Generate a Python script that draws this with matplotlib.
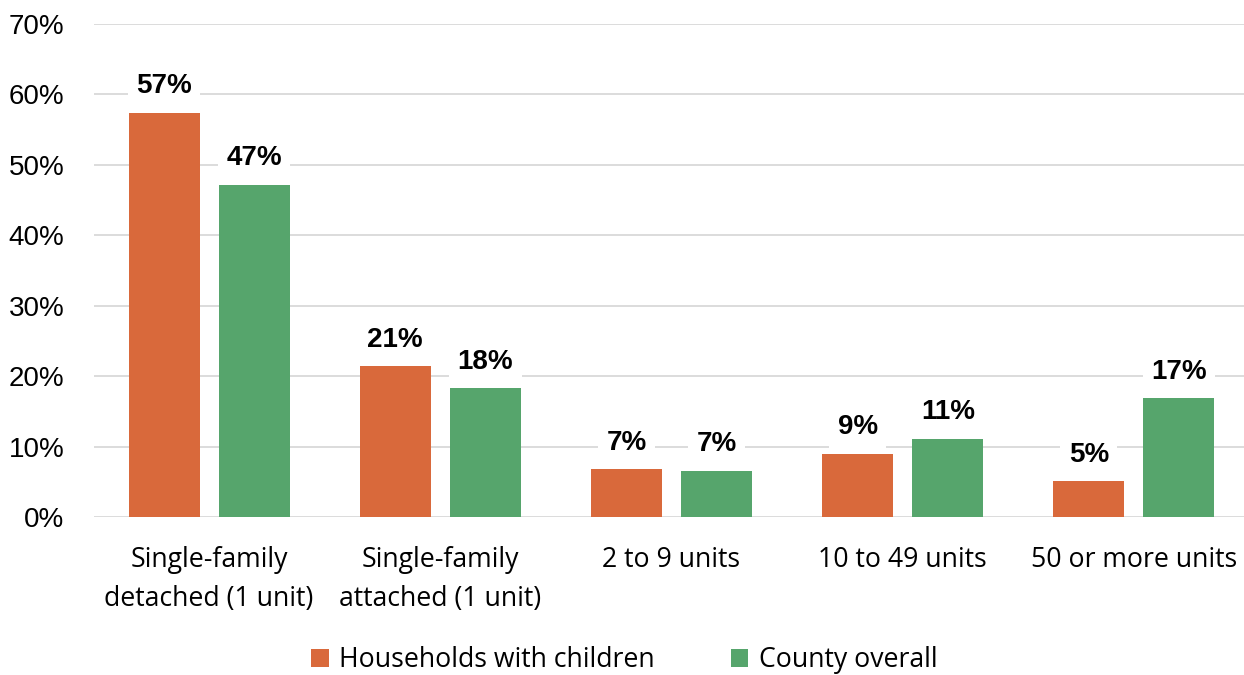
import matplotlib
matplotlib.use("Agg")
import matplotlib.pyplot as plt
import numpy as np
from matplotlib.ticker import PercentFormatter

categories = ["Single-family\ndetached (1 unit)", "Single-family\nattached (1 unit)",
              "2 to 9 units", "10 to 49 units", "50 or more units"]
households_children = [57.4, 21.4, 6.8, 9.0, 5.1]
county_overall = [47.2, 18.3, 6.6, 11.1, 16.9]
series_names = ["Households with children", "County overall"]
yticks = [0, 10, 20, 30, 40, 50, 60, 70]

orange = "#D9693B"
green = "#56A56C"
grid_color = "#D9D9D9"
label_font = "Liberation Sans"
cat_font = "Open Sans"

fig = plt.figure(figsize=(12.44, 6.75), dpi=100)
ax = fig.add_axes([93.5/1244, 1-517/675, 1156/1244, (517-24)/675])

x = np.arange(len(categories))
w = 0.307
off = 0.195
b1 = ax.bar(x - off, households_children, w, color=orange, zorder=3, label=series_names[0])
b2 = ax.bar(x + off, county_overall, w, color=green, zorder=3, label=series_names[1])

for bars, vals in ((b1, households_children), (b2, county_overall)):
    for rect, v in zip(bars, vals):
        ax.annotate(f"{int(v + 0.5)}%", (rect.get_x() + rect.get_width()/2, v),
                    xytext=(0, 14), textcoords="offset points", ha="center", va="baseline",
                    fontsize=20, fontweight="bold", family=label_font, color="black", zorder=4,
                    bbox=dict(boxstyle="square,pad=0.3", fc="white", ec="none"))

ax.set_xlim(-0.5, len(categories) - 0.5)
ax.set_ylim(0, 70)
ax.set_yticks(yticks)
ax.yaxis.set_major_formatter(PercentFormatter(decimals=0))
ax.set_xticks(x)
ax.set_xticklabels(categories, family=cat_font, fontsize=19.2, linespacing=1.5)
for t in ax.get_yticklabels():
    t.set_family(label_font)
    t.set_fontsize(20)
ax.tick_params(axis="both", length=0)
ax.tick_params(axis="y", pad=21)
ax.tick_params(axis="x", pad=21)
ax.grid(axis="y", color=grid_color, linewidth=1.3, zorder=0)
for s in ax.spines.values():
    s.set_visible(False)

fig.legend(handles=[b1, b2], labels=series_names, loc="center", bbox_to_anchor=(0.502, 0.022),
           ncol=2, frameon=False, prop={"family": cat_font, "size": 19.2},
           handlelength=0.65, handleheight=0.65, handletextpad=0.4, columnspacing=2.85,
           borderaxespad=0, borderpad=0)

fig.savefig("out.png", dpi=100)
